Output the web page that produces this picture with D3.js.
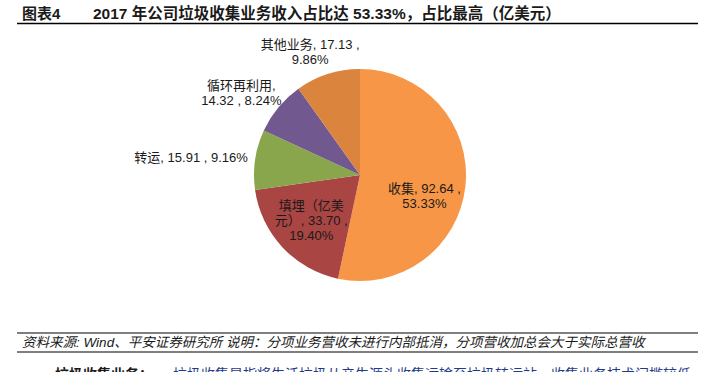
<!DOCTYPE html>
<html>
<head>
<meta charset="utf-8">
<script src="https://cdn.jsdelivr.net/npm/d3@7"></script>
<style>
  html, body { margin: 0; padding: 0; background: #fff; overflow: hidden; }
  svg { display: block; }
  text { font-family: "Liberation Sans", Arial, "Noto Sans CJK SC", sans-serif; fill: #1a1a1a; }
</style>
</head>
<body>
<div id="chart"></div>
<script>
  const CATEGORIES = ["收集", "填埋（亿美元）", "转运", "循环再利用", "其他业务"];
  const VALUES = [92.64, 33.70, 15.91, 14.32, 17.13];
  const PERCENTS = ["53.33%", "19.40%", "9.16%", "8.24%", "9.86%"];
  const LABEL_LINES = [
    ["收集, 92.64 ,", "53.33%"],
    ["填埋（亿美", "元）, 33.70 ,", "19.40%"],
    ["转运, 15.91 , 9.16%"],
    ["循环再利用,", "14.32 , 8.24%"],
    ["其他业务, 17.13 ,", "9.86%"]
  ];
  const COLORS = ["#F79646", "#A94543", "#8AA64C", "#71588F", "#DB843D"];
  // labels drawn inside the slice, the rest sit outside
  const INSIDE = ["收集", "填埋（亿美元）"];

  const width = 721, height = 372;
  const cx = 360, cy = 175, radius = 106;
  const lineH = 15;

  const svg = d3.select("#chart").append("svg")
    .attr("width", width)
    .attr("height", height);

  // title
  svg.append("text")
    .attr("x", 22).attr("y", 19)
    .attr("font-size", 15).attr("font-weight", "bold")
    .text("图表4");
  svg.append("text")
    .attr("x", 93).attr("y", 19)
    .attr("font-size", 15.5).attr("font-weight", "bold")
    .text("2017 年公司垃圾收集业务收入占比达 53.33%，占比最高（亿美元）");
  svg.append("line")
    .attr("x1", 17).attr("x2", 698).attr("y1", 23.5).attr("y2", 23.5)
    .attr("stroke", "#000").attr("stroke-width", 1.5);

  const data = CATEGORIES.map((c, i) => ({ name: c, value: VALUES[i], pct: PERCENTS[i], lines: LABEL_LINES[i], color: COLORS[i] }));

  const pie = d3.pie().sort(null).value(d => d.value);
  const arc = d3.arc().innerRadius(0).outerRadius(radius);
  const arcs = pie(data);

  const g = svg.append("g").attr("transform", `translate(${cx},${cy})`);

  g.selectAll("path")
    .data(arcs)
    .join("path")
    .attr("d", arc)
    .attr("fill", d => d.data.color);

  const labelG = g.append("g").attr("font-size", 13);

  arcs.forEach(d => {
    const mid = (d.startAngle + d.endAngle) / 2;
    const n = d.data.lines.length;
    let x, y;
    if (INSIDE.includes(d.data.name)) {
      const c = d3.arc().innerRadius(0).outerRadius(radius * 1.26).centroid(d);
      x = c[0]; y = c[1];
      if (d.index === 0) { x -= 2; y += 14; }
    } else {
      const w = d3.max(d.data.lines, s => measure(s));
      const h = n * lineH;
      const ax = (radius + 8) * Math.sin(mid), ay = -(radius + 8) * Math.cos(mid);
      x = ax + (w / 2) * Math.sin(mid);
      y = ay - (h / 2) * Math.cos(mid);
    }
    const t = labelG.append("text").attr("text-anchor", "middle");
    d.data.lines.forEach((s, i) => {
      t.append("tspan")
        .attr("x", x)
        .attr("y", y + (i - (n - 1) / 2) * lineH + 4.5)
        .text(s);
    });
  });

  function measure(s) {
    const tmp = svg.append("text").attr("font-size", 13).text(s);
    const w = tmp.node().getComputedTextLength();
    tmp.remove();
    return w;
  }

  // source box
  svg.append("line")
    .attr("x1", 17).attr("x2", 698).attr("y1", 333).attr("y2", 333)
    .attr("stroke", "#000").attr("stroke-width", 1.2);
  svg.append("line")
    .attr("x1", 17).attr("x2", 698).attr("y1", 352).attr("y2", 352)
    .attr("stroke", "#000").attr("stroke-width", 1.2);
  svg.append("text")
    .attr("x", 22).attr("y", 347)
    .attr("font-size", 13.5).attr("font-style", "italic")
    .text("资料来源: Wind、平安证券研究所  说明：分项业务营收未进行内部抵消，分项营收加总会大于实际总营收");

  // body text cut off by the page edge, as in the reference
  const body = svg.append("text").attr("x", 55).attr("y", 379).attr("font-size", 14);
  body.append("tspan").attr("font-weight", "bold").text("垃圾收集业务：");
  body.append("tspan").attr("dx", 20).style("fill", "#1F3C88")
    .text("垃圾收集是指将生活垃圾从产生源头收集运输至垃圾转运站，收集业务技术门槛较低，");
</script>
</body>
</html>
